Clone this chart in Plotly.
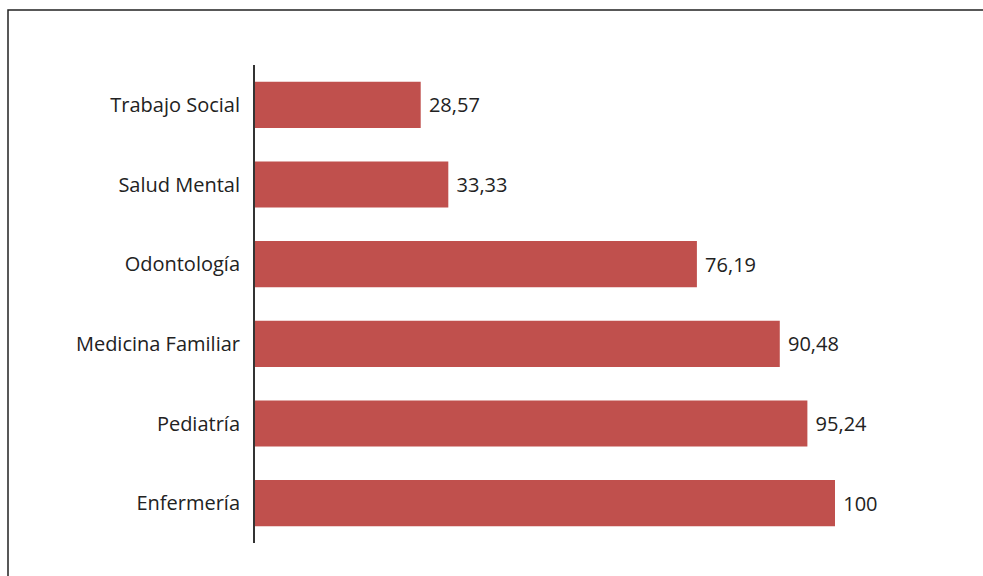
import plotly.graph_objects as go

categories = ["Enfermería", "Pediatría", "Medicina Familiar", "Odontología", "Salud Mental", "Trabajo Social"]
values = [100, 95.24, 90.48, 76.19, 33.33, 28.57]
labels = ["100", "95,24", "90,48", "76,19", "33,33", "28,57"]

fig = go.Figure(go.Bar(
    y=categories, x=values, orientation="h",
    marker=dict(color="#C0504D", line=dict(width=0)),
    text=[" " + t for t in labels], textposition="outside",
    textfont=dict(family="Open Sans", size=20, color="#222222"),
    cliponaxis=False,
))

fig.update_layout(
    width=983, height=576,
    margin=dict(l=255, r=32, t=65, b=33),
    paper_bgcolor="white", plot_bgcolor="white",
    bargap=0.42, showlegend=False,
    font=dict(family="Open Sans", size=20, color="#222222"),
    xaxis=dict(range=[0, 120], showgrid=False, zeroline=False, showticklabels=False, showline=False),
    yaxis=dict(showgrid=False, zeroline=False, showline=True, linecolor="#333333", linewidth=2,
               ticks="", ticklabelstandoff=9, tickfont=dict(family="Open Sans", size=20, color="#222222")),
    shapes=[dict(type="rect", xref="paper", yref="paper",
                 x0=(8 - 255) / 696, x1=1.2, y0=-0.2, y1=(543 - 10) / 478,
                 line=dict(color="#222222", width=1.5), fillcolor="rgba(0,0,0,0)", layer="below")],
)

fig.write_html("out.html")
